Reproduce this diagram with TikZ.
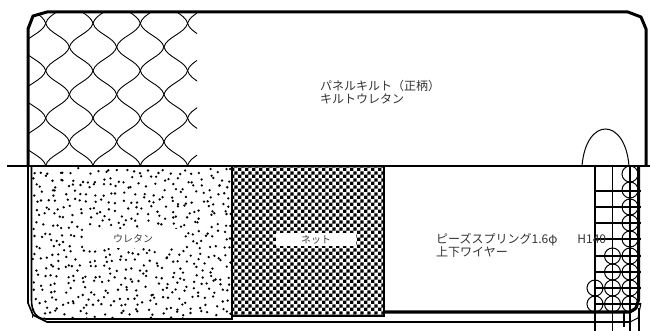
\documentclass[tikz,border=0pt]{standalone}
\usepackage{fontspec}
\newfontfamily\cjk{Noto Sans CJK JP}
\usetikzlibrary{patterns}
\pgfdeclarepatternformonly{netcheck}{\pgfqpoint{0pt}{0pt}}{\pgfqpoint{6.8pt}{6.8pt}}{\pgfqpoint{6.8pt}{6.8pt}}{
  \pgfpathrectangle{\pgfqpoint{0pt}{0pt}}{\pgfqpoint{3.4pt}{3.4pt}}
  \pgfpathrectangle{\pgfqpoint{3.4pt}{3.4pt}}{\pgfqpoint{3.4pt}{3.4pt}}
  \pgfusepath{fill}}

\begin{document}
\begin{tikzpicture}[x=1pt,y=-1pt,
frame/.style={draw,line width=3pt,line join=round},
edge/.style={draw,line width=1.6pt},
grid/.style={draw,line width=1.7pt},
coil/.style={draw,line width=1pt},
quilt/.style={draw,line width=.9pt},
caption/.style={font=\cjk\fontsize{12}{13}\selectfont,text=black!80,align=left,inner sep=0pt,anchor=west},
tag/.style={font=\cjk\fontsize{10}{11}\selectfont,text=black!75,fill=white,inner sep=0pt}]
\useasboundingbox (0,0) rectangle (651,331);

% quilt panel
\begin{scope}
\clip (47,12) -- (33,16) -- (28,29) -- (28,167) -- (197,167) -- (197,12) -- cycle;
\foreach \i in {0,...,8}
  \foreach \j in {-1,...,7} {
    \ifodd\numexpr\i+\j\relax\else
      \draw[quilt] ({22.05+23.65*\i},{-0.4+23.7*\j}) .. controls +(2.5,10) and +(-2.5,-10) .. +(23.65,23.7);
      \draw[quilt] ({22.05+23.65*\i},{-0.4+23.7*\j}) .. controls +(-2.5,10) and +(2.5,-10) .. +(-23.65,23.7);
    \fi
  }
\end{scope}

% urethane
\pgfmathsetseed{11}
\begin{scope}
\clip (32,168) rectangle (231,318);
\foreach \i in {0,...,26}
  \foreach \j in {0,...,20}
    \fill ({32+\i*7.5+rnd*7.5},{168+\j*7.5+rnd*7.5}) circle (1.3);
\end{scope}
\node (urethane) [tag,minimum width=100pt,minimum height=19pt] at (133,239) {ウレタン};

% net
\fill[pattern=netcheck] (232,168) rectangle (384,315);
\node (net) [tag,minimum width=80pt,minimum height=13pt] at (316,239.5) {ネット};

% outline
\draw[frame] (28,167) -- (28,29) -- (33,16) -- (47,12) -- (628,12) -- (641,17) -- (646,29) -- (646,166);
\draw[edge] (28,167) -- (28,303) -- (33,315) -- (47,322) -- (630,322);
\draw[line width=1pt] (630,322) -- (638,318) -- (641,303);
\draw[edge] (31.5,167) -- (31.5,300) .. controls (31.5,311) and (36,319) .. (46,319) -- (232,319) -- (232,167);
\draw[edge] (384,167) -- (384,316) -- (232,316);
\draw[frame] (385,312) -- (630,312) -- (636,308) -- (638.5,300) -- (638.5,167);
\draw[line width=2pt] (7,166.5) -- (650,166.5);

% arch
\draw[coil] (582,166) .. controls (584,141) and (595,129) .. (605.5,129) .. controls (616,129) and (627,141) .. (629,166);

% beads spring
\foreach \y in {174,190,207,223,239,256,272,288,304}
  \draw[coil] (630,\y) circle (8);
\foreach \y in {256,272,288,304}
  \draw[coil] (612.5,\y) circle (8);
\foreach \y in {288,304}
  \draw[coil] (595,\y) circle (8);
\foreach \x in {595,612.5}
  \draw[grid] (\x,165) -- (\x,331);
\draw[line width=1.1pt] (630,167) -- (630,331);
\draw[line width=1.1pt] (639,308) -- (639,331);
\draw[grid] (624,312) -- (624,327);
\foreach \y in {190.7,206.7,223.3,239.3,255.7,271.7,288.3,304.3}
  \draw[grid] (595,\y) -- (641,\y);

% captions
\node (panel) [caption] at (320,92.5) {パネルキルト（正柄）\\キルトウレタン};
\node (spring) [caption] at (436,245) {ピーズスプリング1.6φ\hspace{20pt}H140\\上下ワイヤー};
\end{tikzpicture}
\end{document}
